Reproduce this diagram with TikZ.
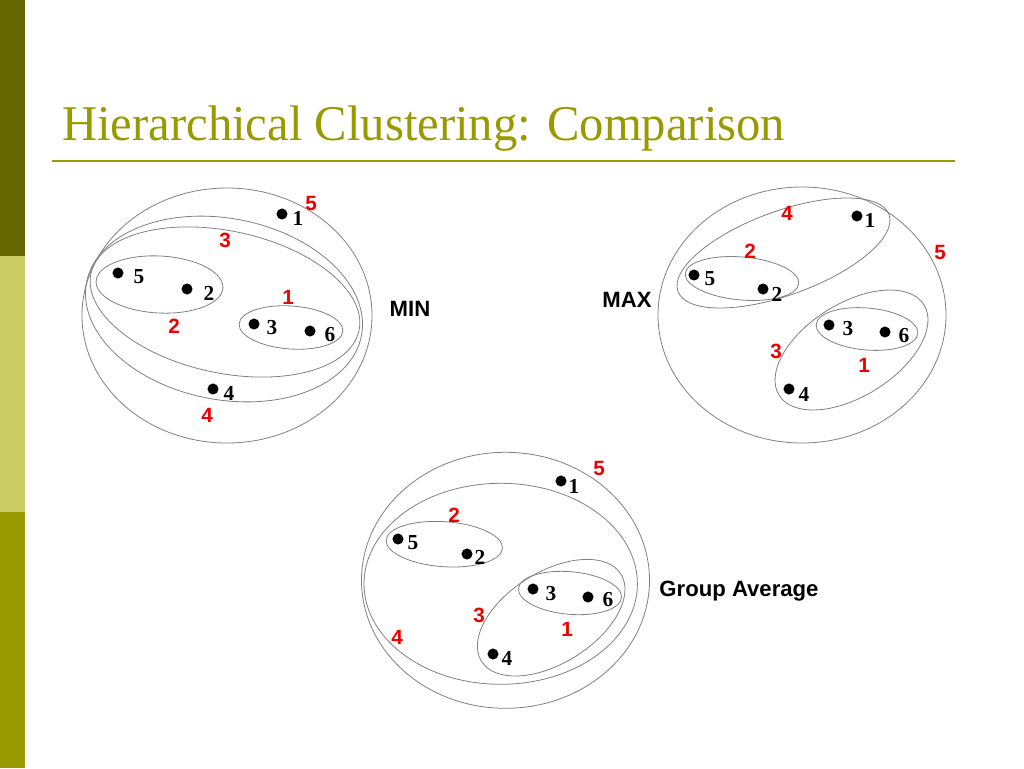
\documentclass[tikz,border=0pt]{standalone}
\usepackage{fontspec}
\setmainfont{Liberation Serif}
\newfontfamily\arialf{Liberation Sans}
\definecolor{olivedark}{HTML}{666600}
\definecolor{olivelight}{HTML}{CCCC66}
\definecolor{olivemid}{HTML}{999900}
\definecolor{ellcol}{HTML}{808080}
\definecolor{lblred}{HTML}{EE0000}
\tikzset{
  ell/.style={draw=ellcol, line width=0.6pt},
  pt/.style={circle, fill=black, inner sep=0pt, minimum size=8.3pt},
  num/.style={inner sep=0pt, font=\bfseries\fontsize{16}{16}\selectfont},
  rlbl/.style={inner sep=0pt, text=lblred, font=\arialf\bfseries\fontsize{15.5}{16}\selectfont},
  method/.style={inner sep=0pt, text=black, font=\arialf\bfseries\fontsize{16.6}{17}\selectfont},
}
\begin{document}
\begin{tikzpicture}[x=0.75pt,y=-0.75pt]
\useasboundingbox (0,0) rectangle (1024,768);
% sidebar
\fill[olivedark] (0,0) rectangle (25,256);
\fill[olivelight] (0,256) rectangle (25,512);
\fill[olivemid] (0,512) rectangle (25,768);
% title
\node[anchor=base west, inner sep=0pt, text=olivemid, xscale=0.973, font=\fontsize{37.5}{40}\selectfont] (title) at (62,140) {Hierarchical Clustering: Comparison};
\draw[olivemid, line width=1.6pt] (52,161) -- (955,161);

% ---------------- MIN ----------------
\draw[ell] (227,315.5) ellipse [x radius=145, y radius=127.5];
\draw[ell, rotate around={-11:(224,309)}] (224,309) ellipse [x radius=140, y radius=90.6];
\draw[ell, rotate around={-12:(225,302)}] (225,302) ellipse [x radius=137, y radius=71];
\draw[ell, rotate around={-3:(159.5,284.5)}] (159.5,284.5) ellipse [x radius=63.5, y radius=28.5];
\draw[ell, rotate around={-4:(291,327.5)}] (291,327.5) ellipse [x radius=52, y radius=21.5];
\node[pt] (a1) at (282,214) {}; \node[num] (a1l) at (298,218) {1};
\node[pt] (a5) at (118,273) {}; \node[num] (a5l) at (139,277) {5};
\node[pt] (a2) at (187,289) {}; \node[num] (a2l) at (209,293) {2};
\node[pt] (a3) at (254,324) {}; \node[num] (a3l) at (272,328) {3};
\node[pt] (a6) at (310,331) {}; \node[num] (a6l) at (330,335) {6};
\node[pt] (a4) at (213,389) {}; \node[num] (a4l) at (229,393) {4};
\node[rlbl] (ar5) at (311,203) {5};
\node[rlbl] (ar3) at (225,240) {3};
\node[rlbl] (ar1) at (288,297) {1};
\node[rlbl] (ar2) at (174,326) {2};
\node[rlbl] (ar4) at (207,415) {4};
\node[method] (minl) at (410,309) {MIN};

% ---------------- MAX ----------------
\draw[ell] (802,315) ellipse [x radius=144, y radius=128];
\draw[ell, rotate around={20:(783.5,253)}] (783.5,253) ellipse [x radius=112.3, y radius=41.9];
\draw[ell, rotate around={-5:(742,278.5)}] (742,278.5) ellipse [x radius=57, y radius=21.5];
\draw[ell, rotate around={32:(851.5,350)}] (851.5,350) ellipse [x radius=85.4, y radius=46.4];
\draw[ell, rotate around={-5:(867,329)}] (867,329) ellipse [x radius=51, y radius=21];
\node[pt] (b1) at (857,216) {}; \node[num] (b1l) at (870,220) {1};
\node[pt] (b5) at (694,275) {}; \node[num] (b5l) at (710,279) {5};
\node[pt] (b2) at (763,289) {}; \node[num] (b2l) at (777,294) {2};
\node[pt] (b3) at (829,325) {}; \node[num] (b3l) at (848,329) {3};
\node[pt] (b6) at (885,332) {}; \node[num] (b6l) at (904,336) {6};
\node[pt] (b4) at (789,389) {}; \node[num] (b4l) at (804,394) {4};
\node[rlbl] (br4) at (787,213) {4};
\node[rlbl] (br2) at (750,251) {2};
\node[rlbl] (br5) at (940,252) {5};
\node[rlbl] (br3) at (776,351) {3};
\node[rlbl] (br1) at (864,365) {1};
\node[method] (maxl) at (627,300) {MAX};

% ---------------- Group Average ----------------
\draw[ell] (505.5,580.3) ellipse [x radius=144, y radius=128];
\draw[ell] (500.7,583.8) ellipse [x radius=136.7, y radius=100.5];
\draw[ell, rotate around={-4:(444.3,544.2)}] (444.3,544.2) ellipse [x radius=58.3, y radius=22.5];
\draw[ell, rotate around={32:(551.2,617.7)}] (551.2,617.7) ellipse [x radius=82.2, y radius=45.7];
\draw[ell, rotate around={-5:(570,593)}] (570,593) ellipse [x radius=51.7, y radius=21.3];
\node[pt] (c1) at (561,481) {}; \node[num] (c1l) at (574,486) {1};
\node[pt] (c5) at (398,539) {}; \node[num] (c5l) at (413,543) {5};
\node[pt] (c2) at (467,554) {}; \node[num] (c2l) at (480,557) {2};
\node[pt] (c3) at (533,589) {}; \node[num] (c3l) at (551,594) {3};
\node[pt] (c6) at (588,597) {}; \node[num] (c6l) at (608,600) {6};
\node[pt] (c4) at (493,654) {}; \node[num] (c4l) at (507,658) {4};
\node[rlbl] (cr5) at (599,468) {5};
\node[rlbl] (cr2) at (454,515) {2};
\node[rlbl] (cr3) at (479,615) {3};
\node[rlbl] (cr1) at (567,629) {1};
\node[rlbl] (cr4) at (397,637) {4};
\node[method] (gal) at (739,591) {Group Average};
\end{tikzpicture}
\end{document}
